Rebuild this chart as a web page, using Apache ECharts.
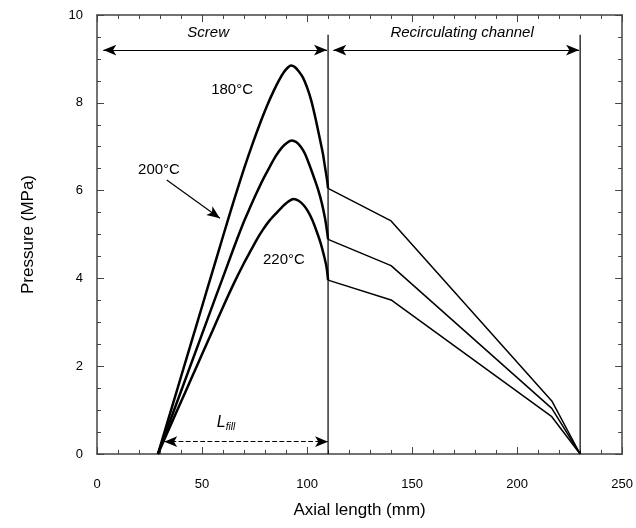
<!DOCTYPE html>
<html><head><meta charset="utf-8">
<script src="https://cdn.jsdelivr.net/npm/echarts@6/dist/echarts.min.js"></script>
<style>html,body{margin:0;padding:0;background:#fff}#c{width:636px;height:528px}</style>
</head><body><div id="c"></div>
<script>
// Screw-section pressure profiles [axial length mm, pressure MPa]
const screw180 = [[29,0],[35,0.96],[40,1.76],[45,2.56],[50,3.36],[55,4.16],[60,4.96],[65,5.75],[70,6.5],[74,7.06],[78,7.58],[81,7.94],[84,8.26],[86.5,8.5],[89,8.7],[91,8.81],[92.4,8.85],[94,8.82],[96,8.72],[98,8.58],[100,8.35],[102,8.05],[104,7.65],[106,7.2],[107.5,6.85],[108.5,6.55],[109.5,6.25],[110,6.05]];
const screw200 = [[29,0],[35,0.78],[40,1.43],[46.7,2.3],[50,2.73],[56.2,3.54],[60,4.03],[65,4.68],[70,5.3],[73,5.63],[76,5.95],[79,6.25],[82,6.52],[85,6.78],[88,6.98],[90.5,7.09],[92.7,7.14],[95,7.1],[97,7.0],[99,6.84],[101.4,6.55],[103.5,6.27],[105.4,6.0],[107,5.72],[108.5,5.38],[109.5,5.08],[110,4.89]];
const screw220 = [[29,0],[35,0.65],[40,1.19],[45,1.73],[50,2.27],[55,2.81],[60,3.35],[65,3.87],[70,4.35],[73.5,4.66],[76,4.88],[79,5.11],[82,5.31],[85.6,5.5],[88,5.62],[90.5,5.73],[93.5,5.81],[96,5.77],[98.5,5.66],[100.5,5.52],[102.5,5.33],[104.5,5.08],[106.5,4.8],[108,4.53],[109.3,4.25],[110,3.96]];
// Recirculating channel profiles
const chan180 = [[110,6.05],[140,5.31],[216.5,1.21],[230,0]];
const chan200 = [[110,4.89],[140,4.29],[216.5,1.04],[230,0]];
const chan220 = [[110,3.96],[140,3.51],[216.5,0.85],[230,0]];
// boundaries and annotations
const boundaryScrewEnd = 110, boundaryChannelEnd = 230, boundaryTop = 9.55;
const xTicks = [0, 50, 100, 150, 200, 250];
const yTicks = [0, 2, 4, 6, 8, 10];
const labels = [
  {name:'Screw', coord:[52.9, 9.59], italic:true},
  {name:'Recirculating channel', coord:[173.8, 9.59], italic:true},
  {name:'180°C', coord:[64.3, 8.29]},
  {name:'200°C', coord:[29.5, 6.47]},
  {name:'220°C', coord:[89, 4.42]}
];

const chart = echarts.init(document.getElementById('c'), null, {renderer:'canvas'});
const FONT = 'Liberation Sans, Arial, sans-serif';
const lineSeries = (data, w, smooth) => ({type:'line', data, showSymbol:false, symbol:'none', silent:true,
  smooth: smooth || false,
  lineStyle:{color:'#000', width:w}, xAxisIndex:0, yAxisIndex:0, z:3});

const axisCommon = {
  min:0, type:'value', splitLine:{show:false},
  axisLine:{show:true, onZero:false, lineStyle:{color:'#444', width:1.5}},
  axisTick:{show:true, inside:true, length:7, lineStyle:{color:'#444'}}
};
const mt = n => ({show:true, splitNumber:n, length:4, lineStyle:{color:'#444'}});

chart.setOption({
  animation:false,
  grid:{left:97, right:12, top:15, bottom:74},
  xAxis:[
    Object.assign({}, axisCommon, {max:250, interval:50, position:'bottom', minorTick:mt(5),
      axisLabel:{margin:24, fontFamily:FONT, fontSize:13, color:'#000'},
      name:'Axial length (mm)', nameLocation:'middle', nameGap:48,
      nameTextStyle:{fontFamily:FONT, fontSize:17, color:'#000'}}),
    Object.assign({}, axisCommon, {max:250, interval:50, position:'top', minorTick:mt(5),
      axisLabel:{show:false}})
  ],
  yAxis:[
    Object.assign({}, axisCommon, {max:10, interval:2, position:'left', minorTick:mt(4),
      axisLabel:{margin:14, fontFamily:FONT, fontSize:13, color:'#000'},
      name:'Pressure (MPa)', nameLocation:'middle', nameGap:60,
      nameTextStyle:{fontFamily:FONT, fontSize:17, color:'#000'}}),
    Object.assign({}, axisCommon, {max:10, interval:2, position:'right', minorTick:mt(4),
      axisLabel:{show:false}})
  ],
  series:[
    lineSeries(screw180, 2.5, 0.3), lineSeries(screw200, 2.5, 0.3), lineSeries(screw220, 2.5, 0.3),
    lineSeries(chan180, 1.5), lineSeries(chan200, 1.5), lineSeries(chan220, 1.5),
    lineSeries([[boundaryScrewEnd,0],[boundaryScrewEnd,boundaryTop]], 1.2),
    lineSeries([[boundaryChannelEnd,0],[boundaryChannelEnd,boundaryTop]], 1.2),
    {type:'scatter', data:[], silent:true,
      markLine:{silent:true, symbol:['arrow','arrow'], symbolSize:[8,13], animation:false,
        label:{show:false},
        lineStyle:{color:'#000', width:1.2, type:'solid'},
        data:[
          [{coord:[3,9.2]},{coord:[109.5,9.2]}],
          [{coord:[112.5,9.2]},{coord:[229.5,9.2]}],
          [{coord:[32,0.28], lineStyle:{type:'dashed', width:1.2}},{coord:[110,0.28]}],
          [{coord:[33.2,6.24], symbol:'none'},{coord:[58.5,5.37], symbol:'arrow', symbolSize:[8,13]}]
        ]},
      markPoint:{silent:true, symbol:'rect', symbolSize:0,
        data: labels.map(l => ({coord:l.coord, label:{show:true, formatter:l.name, position:'inside',
          fontFamily:FONT, fontSize:15, color:'#000', fontStyle:l.italic?'italic':'normal'}})).concat([
          {coord:[61.4,0.72], label:{show:true, position:'inside', formatter:'{l|L}{s|fill}',
            rich:{l:{fontFamily:FONT, fontSize:16, fontStyle:'italic', color:'#000'},
                  s:{fontFamily:FONT, fontSize:10, fontStyle:'italic', color:'#000', verticalAlign:'bottom', padding:[10,0,0,0]}}}}
        ])}
    }
  ]
});
</script></body></html>
